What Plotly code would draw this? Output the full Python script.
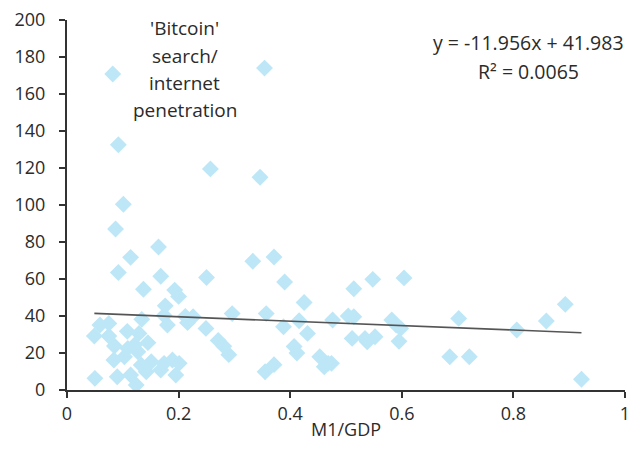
import plotly.graph_objects as go

# M1/GDP ratio per country (x) and 'Bitcoin' search / internet penetration (y)
m1_gdp = [
    0.082, 0.354, 0.092, 0.257, 0.346, 0.101, 0.087, 0.164, 0.114, 0.092,
    0.168, 0.333, 0.371, 0.250, 0.390, 0.137, 0.193, 0.200, 0.176, 0.425,
    0.548, 0.604, 0.514,
    0.134, 0.174, 0.180, 0.212, 0.226, 0.216, 0.249, 0.296, 0.357, 0.388,
    0.271, 0.281, 0.290,
    0.059, 0.075, 0.049, 0.075, 0.085, 0.108, 0.129, 0.121, 0.145, 0.109,
    0.103, 0.084, 0.127, 0.133, 0.151, 0.142, 0.174, 0.189, 0.201, 0.168,
    0.195, 0.050, 0.090, 0.114, 0.124,
    0.416, 0.476, 0.504, 0.514, 0.431, 0.582, 0.590, 0.598, 0.511, 0.534,
    0.538, 0.552, 0.595, 0.407, 0.412, 0.453, 0.468, 0.461, 0.474,
    0.355, 0.371,
    0.702, 0.686, 0.721, 0.806, 0.859, 0.893, 0.922,
]
search_ratio = [
    170.8, 174.0, 132.6, 119.5, 115.0, 100.4, 87.0, 77.3, 71.7, 63.5,
    61.5, 69.6, 71.9, 60.8, 58.4, 54.5, 54.0, 50.6, 45.5, 47.3,
    59.8, 60.6, 54.7,
    38.2, 40.3, 35.1, 39.8, 39.6, 36.4, 33.3, 41.3, 41.3, 34.2,
    26.8, 23.6, 19.1,
    35.1, 36.0, 29.2, 29.2, 23.8, 31.7, 30.6, 24.3, 25.6, 22.5,
    18.0, 16.2, 20.7, 13.5, 15.3, 9.9, 14.4, 16.2, 14.4, 10.8,
    8.1, 6.3, 7.2, 8.1, 2.7,
    37.4, 37.8, 40.0, 39.6, 30.6, 37.8, 35.1, 33.3, 27.9, 27.9,
    26.1, 28.8, 26.3, 23.5, 20.0, 18.0, 14.4, 12.6, 14.4,
    9.9, 13.7,
    38.7, 18.0, 18.0, 32.4, 37.3, 46.3, 5.8,
]

# Linear trend reported on the chart
slope = -11.956
intercept = 41.983
r_squared = 0.0065

x_ticks = [0, 0.2, 0.4, 0.6, 0.8, 1]
x_tick_text = ["0", "0.2", "0.4", "0.6", "0.8", "1"]
y_ticks = [0, 20, 40, 60, 80, 100, 120, 140, 160, 180, 200]

series_label_lines = ["'Bitcoin'", "search/", "internet", "penetration"]

font_family = "Open Sans, Noto Sans, sans-serif"
text_color = "#2b2b2b"
axis_color = "#333333"

x_lo, x_hi = min(m1_gdp), max(m1_gdp)
trend_x = [x_lo, x_hi]
trend_y = [slope * v + intercept for v in trend_x]

fig = go.Figure()
fig.add_trace(go.Scatter(
    x=m1_gdp, y=search_ratio, mode="markers",
    marker=dict(symbol="diamond", size=13, color="#BDE7F7",
                line=dict(width=0)),
    showlegend=False,
))
fig.add_trace(go.Scatter(
    x=trend_x, y=trend_y, mode="lines",
    line=dict(color="#555555", width=1.6),
    showlegend=False,
))

# Series label, one line per annotation for wider line spacing
for i, line in enumerate(series_label_lines):
    fig.add_annotation(
        x=0.211, y=195.5 - i * 14.8, xref="x", yref="y",
        text=line, showarrow=False, xanchor="center", yanchor="middle",
        font=dict(family=font_family, size=19, color=text_color),
    )

sign = "-" if slope < 0 else ""
eq_lines = [f"y = {sign}{abs(slope):.3f}x + {intercept:.3f}",
            f"R² = {r_squared}"]
for i, line in enumerate(eq_lines):
    fig.add_annotation(
        x=0.827, y=188.0 - i * 15.6, xref="x", yref="y",
        text=line, showarrow=False, xanchor="center", yanchor="middle",
        font=dict(family=font_family, size=19.5, color=text_color),
    )

fig.update_layout(
    width=634, height=460,
    margin=dict(l=67, r=4, t=20, b=70),
    paper_bgcolor="white", plot_bgcolor="white",
    font=dict(family=font_family, size=18, color=text_color),
    xaxis=dict(
        range=[0, 1], tickvals=x_ticks, ticktext=x_tick_text,
        showgrid=False, zeroline=False,
        showline=True, linecolor=axis_color, linewidth=2,
        ticks="outside", ticklen=6, tickwidth=2, tickcolor=axis_color,
        tickfont=dict(size=18), ticklabeloverflow="allow",
        title=dict(text="M1/GDP", standoff=0,
                   font=dict(family=font_family, size=18, color=text_color)),
    ),
    yaxis=dict(
        range=[0, 200], tickvals=y_ticks,
        showgrid=False, zeroline=False,
        showline=True, linecolor=axis_color, linewidth=2,
        ticks="outside", ticklen=6, tickwidth=2, tickcolor=axis_color,
        tickfont=dict(size=18), ticklabelstandoff=10,
    ),
)

fig.write_html("out.html")
